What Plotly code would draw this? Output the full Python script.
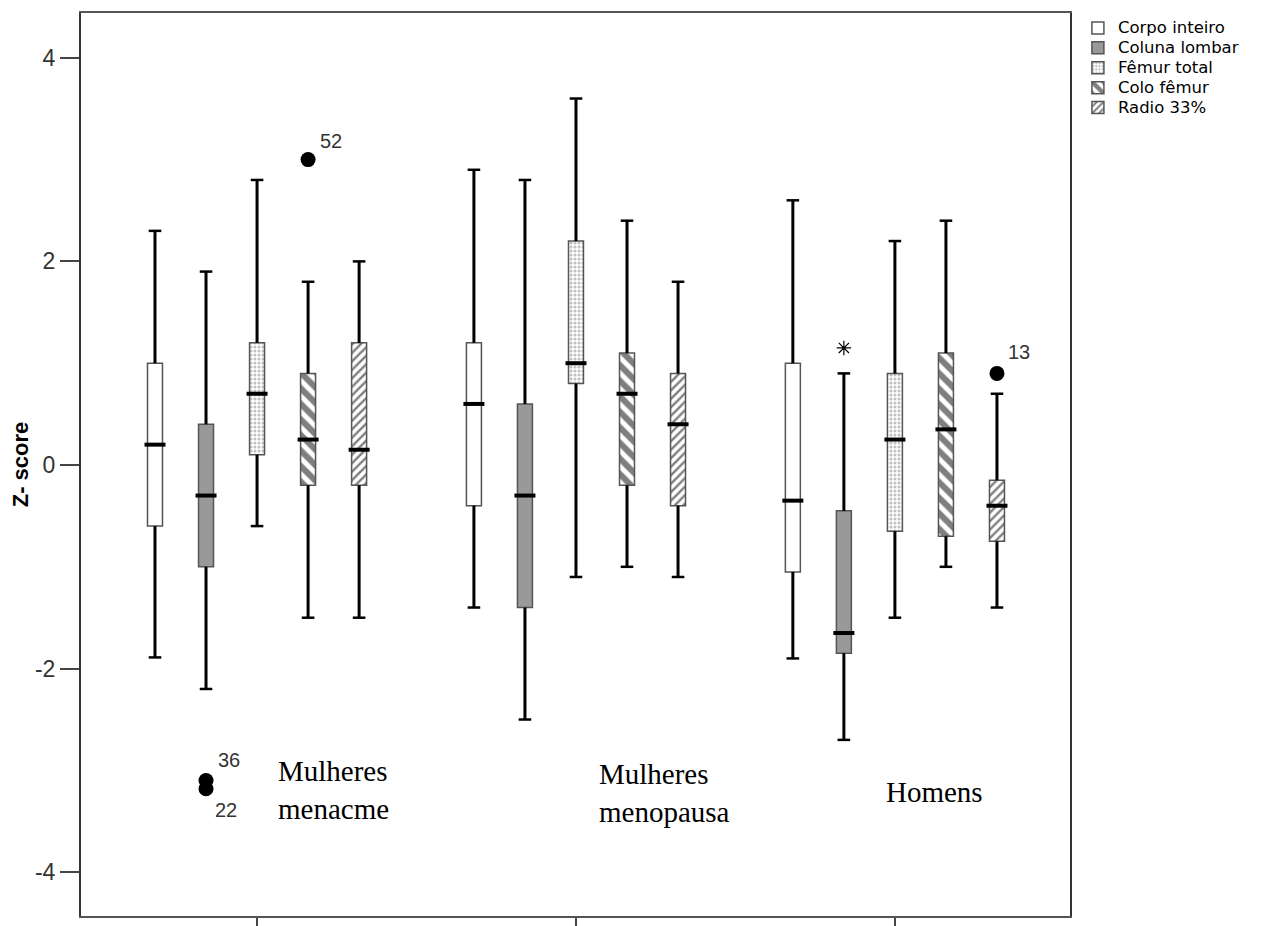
import plotly.graph_objects as go

# ---------------- data ----------------
groups = ["Mulheres menacme", "Mulheres menopausa", "Homens"]
group_pos = [0, 1, 2]
series = ["Corpo inteiro", "Coluna lombar", "Fêmur total", "Colo fêmur", "Radio 33%"]
offsets = [-0.32, -0.16, 0.0, 0.16, 0.32]

lower_fence = {
    "Corpo inteiro": [-1.89, -1.40, -1.90],
    "Coluna lombar": [-2.20, -2.50, -2.70],
    "Fêmur total":   [-0.60, -1.10, -1.50],
    "Colo fêmur":    [-1.50, -1.00, -1.00],
    "Radio 33%":     [-1.50, -1.10, -1.40],
}
q1 = {
    "Corpo inteiro": [-0.60, -0.40, -1.05],
    "Coluna lombar": [-1.00, -1.40, -1.85],
    "Fêmur total":   [0.10, 0.80, -0.65],
    "Colo fêmur":    [-0.20, -0.20, -0.70],
    "Radio 33%":     [-0.20, -0.40, -0.75],
}
median = {
    "Corpo inteiro": [0.20, 0.60, -0.35],
    "Coluna lombar": [-0.30, -0.30, -1.65],
    "Fêmur total":   [0.70, 1.00, 0.25],
    "Colo fêmur":    [0.25, 0.70, 0.35],
    "Radio 33%":     [0.15, 0.40, -0.40],
}
q3 = {
    "Corpo inteiro": [1.00, 1.20, 1.00],
    "Coluna lombar": [0.40, 0.60, -0.45],
    "Fêmur total":   [1.20, 2.20, 0.90],
    "Colo fêmur":    [0.90, 1.10, 1.10],
    "Radio 33%":     [1.20, 0.90, -0.15],
}
upper_fence = {
    "Corpo inteiro": [2.30, 2.90, 2.60],
    "Coluna lombar": [1.90, 2.80, 0.90],
    "Fêmur total":   [2.80, 3.60, 2.20],
    "Colo fêmur":    [1.80, 2.40, 2.40],
    "Radio 33%":     [2.00, 1.80, 0.70],
}

# outliers: group index, series index, value, case label
out_group = [0, 0, 0, 2]
out_series = [1, 1, 3, 4]
out_value = [-3.10, -3.18, 3.00, 0.90]
out_label = ["36", "22", "52", "13"]
# extreme (asterisk)
ext_group = [2]
ext_series = [1]
ext_value = [1.15]

y_tickvals = [-4, -2, 0, 2, 4]
y_ticktext = ["-4", "-2", "0", "2", "4"]

# ---------------- styles ----------------
styles = {
    "Corpo inteiro": dict(color="white", pattern=dict(shape="")),
    "Coluna lombar": dict(color="#999999", pattern=dict(shape="")),
    "Fêmur total": dict(color="white", pattern=dict(shape=".", fgcolor="#808080", bgcolor="white",
                                                     size=4, solidity=0.45, fillmode="overlay")),
    "Colo fêmur": dict(color="white", pattern=dict(shape="\\", fgcolor="black", bgcolor="white",
                                                    size=11, solidity=0.55, fillmode="overlay")),
    "Radio 33%": dict(color="white", pattern=dict(shape="/", fgcolor="black", bgcolor="white",
                                                   size=6, solidity=0.4, fillmode="overlay")),
}
box_w = 0.047

fig = go.Figure()

for si, s in enumerate(series):
    xs = [g + offsets[si] for g in group_pos]
    st = styles[s]
    fig.add_trace(go.Bar(
        x=xs, base=q1[s], y=[b - a for a, b in zip(q1[s], q3[s])],
        width=box_w, name='<span style="font-size:16.5px">' + s + '</span>',
        marker=dict(color=st["color"], pattern=st["pattern"],
                    line=dict(color="#555555", width=1.5)),
        hoverinfo="skip",
    ))

for si, s in enumerate(series):
    xs = [g + offsets[si] for g in group_pos]
    wx, wy = [], []
    for x, lo, a, b, hi in zip(xs, lower_fence[s], q1[s], q3[s], upper_fence[s]):
        wx += [x, x, None, x, x, None]
        wy += [hi, b, None, a, lo, None]
    fig.add_trace(go.Scatter(x=wx, y=wy, mode="lines", line=dict(color="black", width=3),
                             showlegend=False, hoverinfo="skip"))
    # caps
    fig.add_trace(go.Scatter(x=xs + xs, y=lower_fence[s] + upper_fence[s], mode="markers",
                             marker=dict(symbol="line-ew", size=9, line=dict(color="black", width=2.5)),
                             showlegend=False, hoverinfo="skip"))
    # medians
    fig.add_trace(go.Scatter(x=xs, y=median[s], mode="markers",
                             marker=dict(symbol="line-ew", size=15, line=dict(color="black", width=4)),
                             showlegend=False, hoverinfo="skip"))

ox = [group_pos[g] + offsets[s] for g, s in zip(out_group, out_series)]
fig.add_trace(go.Scatter(x=ox, y=out_value, mode="markers",
                         marker=dict(symbol="circle", size=15, color="black"),
                         showlegend=False, hoverinfo="skip"))
ex = [group_pos[g] + offsets[s] for g, s in zip(ext_group, ext_series)]
fig.add_trace(go.Scatter(x=ex, y=ext_value, mode="markers",
                         marker=dict(symbol="asterisk-open", size=12, color="black",
                                     line=dict(color="black", width=1.2)),
                         showlegend=False, hoverinfo="skip"))

shifts = {"36": (23, 21), "22": (20, -21), "52": (23, 19), "13": (22, 21)}
for x, y, lab in zip(ox, out_value, out_label):
    dx, dy = shifts[lab]
    fig.add_annotation(x=x, y=y, text=lab, showarrow=False, xshift=dx, yshift=dy,
                       font=dict(family="Liberation Sans, Arial", size=20, color="#333333"))

group_label_text = ["Mulheres<br>menacme", "Mulheres<br>menopausa", "Homens"]
group_label_x = [0.06, 1.066, 1.966]
group_label_y = [-3.19, -3.22, -3.21]
for t, x, y in zip(group_label_text, group_label_x, group_label_y):
    fig.add_annotation(x=x, y=y, text=t, showarrow=False, xanchor="left", yanchor="middle",
                       align="left", font=dict(family="Liberation Serif, Times New Roman", size=29,
                                               color="black"))

fig.update_layout(
    width=1274, height=918,
    margin=dict(l=73, r=212, t=5, b=10, autoexpand=False),
    paper_bgcolor="white", plot_bgcolor="white",
    barmode="overlay",
    showlegend=True,
    legend=dict(x=1.008, y=1.0, xanchor="left", yanchor="top",
                font=dict(family="DejaVu Sans, Verdana", size=13, color="black"),
                bgcolor="rgba(0,0,0,0)", tracegroupgap=0, itemwidth=30),
    xaxis=dict(range=[-0.552, 2.549], tickvals=group_pos, ticktext=["", "", ""],
               showticklabels=False, ticks="outside", ticklen=8, tickwidth=2, tickcolor="#444",
               showline=True, linecolor="#555555", linewidth=2, mirror=True,
               showgrid=False, zeroline=False, automargin=False),
    yaxis=dict(range=[-4.43, 4.44], tickvals=y_tickvals, ticktext=y_ticktext,
               ticks="outside", ticklen=19, tickwidth=2, tickcolor="#444",
               tickfont=dict(family="Liberation Sans, Arial", size=23, color="#333333"),
               showline=True, linecolor="#333333", linewidth=2, mirror=True,
               showgrid=False, zeroline=False, automargin=False,
               title=dict(text="<b>Z- score</b>", standoff=12,
                          font=dict(family="Liberation Sans Narrow, Liberation Sans, Arial", size=22,
                                    color="black"))),
)

fig.write_html("out.html")
